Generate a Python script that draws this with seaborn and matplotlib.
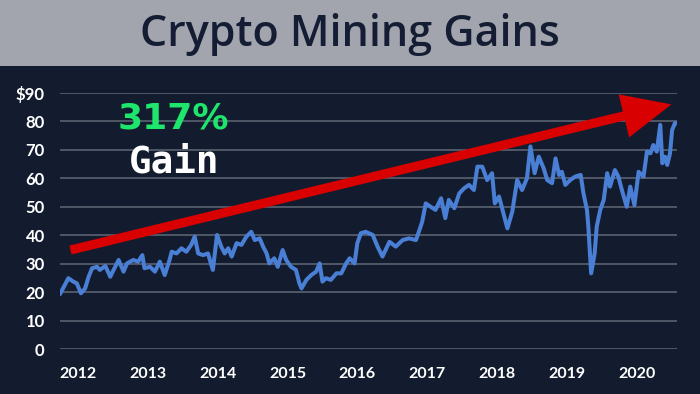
import numpy as np
import pandas as pd
import matplotlib
matplotlib.use("Agg")
import matplotlib.pyplot as plt
import seaborn as sns
from matplotlib.patches import Rectangle

# price readings (decimal year, $)
years = [2011.74, 2011.86, 2011.93, 2011.98, 2012.04, 2012.10, 2012.15, 2012.20, 2012.27, 2012.31,
         2012.39, 2012.46, 2012.52, 2012.58, 2012.65, 2012.70, 2012.79, 2012.86, 2012.92, 2012.95,
         2013.03, 2013.10, 2013.17, 2013.24, 2013.31, 2013.34, 2013.41, 2013.48, 2013.55, 2013.62,
         2013.67, 2013.72, 2013.79, 2013.86, 2013.93, 2013.99, 2014.05, 2014.10, 2014.15, 2014.20,
         2014.27, 2014.34, 2014.41, 2014.48, 2014.53, 2014.60, 2014.65, 2014.70, 2014.74, 2014.81,
         2014.86, 2014.93, 2014.98, 2015.05, 2015.12, 2015.17, 2015.20, 2015.27, 2015.34, 2015.41,
         2015.46, 2015.50, 2015.55, 2015.62, 2015.70, 2015.77, 2015.84, 2015.89, 2015.96, 2016.00,
         2016.05, 2016.12, 2016.22, 2016.29, 2016.36, 2016.46, 2016.55, 2016.65, 2016.74, 2016.84,
         2016.89, 2016.93, 2016.98, 2017.05, 2017.12, 2017.20, 2017.26, 2017.31, 2017.39, 2017.46,
         2017.53, 2017.60, 2017.67, 2017.72, 2017.79, 2017.86, 2017.93, 2017.97, 2018.03, 2018.08,
         2018.15, 2018.22, 2018.29, 2018.36, 2018.43, 2018.48, 2018.54, 2018.60, 2018.67, 2018.72,
         2018.79, 2018.84, 2018.89, 2018.93, 2018.98, 2019.05, 2019.12, 2019.20, 2019.24, 2019.29,
         2019.31, 2019.35, 2019.40, 2019.43, 2019.48, 2019.53, 2019.58, 2019.62, 2019.69, 2019.74,
         2019.79, 2019.86, 2019.91, 2019.97, 2020.03, 2020.10, 2020.15, 2020.20, 2020.24, 2020.29,
         2020.34, 2020.37, 2020.41, 2020.44, 2020.48, 2020.51, 2020.55, 2020.58]
prices = [19.3, 24.9, 23.7, 23.1, 19.6, 21.3, 25.4, 28.4, 28.9, 27.8,
          29.2, 25.4, 28.4, 31.3, 27.2, 30.1, 31.3, 30.7, 33.0, 28.4,
          28.9, 27.2, 30.7, 26.0, 31.3, 34.2, 33.6, 35.4, 34.2, 36.6,
          39.5, 33.6, 33.0, 33.6, 27.8, 40.1, 36.0, 33.6, 35.4, 32.5,
          37.2, 36.6, 39.5, 41.2, 38.3, 38.9, 36.0, 33.6, 30.1, 31.9,
          28.9, 34.8, 31.3, 28.9, 27.8, 23.1, 21.3, 24.3, 26.0, 27.2,
          30.1, 23.7, 24.9, 24.3, 26.6, 26.6, 30.1, 31.9, 30.1, 37.2,
          40.7, 41.2, 40.1, 36.0, 32.5, 37.7, 36.0, 38.3, 38.9, 38.3,
          41.8, 44.8, 51.2, 50.0, 48.9, 53.0, 46.0, 52.4, 49.5, 54.7,
          56.5, 57.7, 55.9, 64.1, 64.1, 59.4, 61.8, 51.2, 53.6, 48.9,
          42.4, 48.3, 59.4, 55.9, 60.0, 71.2, 61.8, 67.6, 63.5, 59.4,
          58.3, 67.0, 61.2, 62.3, 57.7, 59.4, 60.6, 61.2, 54.7, 48.9,
          43.0, 26.6, 33.6, 43.0, 48.9, 52.4, 61.8, 57.1, 62.9, 60.6,
          55.9, 50.0, 57.1, 50.6, 62.3, 60.6, 69.4, 68.8, 71.7, 69.4,
          78.8, 65.3, 67.6, 64.7, 68.8, 77.0, 79.4, 79.4]

tick_years = [2012, 2013, 2014, 2015, 2016, 2017, 2018, 2019, 2020]
y_ticks = [0, 10, 20, 30, 40, 50, 60, 70, 80, 90]
y_labels = ["0", "10", "20", "30", "40", "50", "60", "70", "80", "$90"]

# trend arrow endpoints (year, $)
arrow_start = (2011.89, 34.8)
arrow_end = (2020.50, 86.0)

BG = "#131c2e"
BANNER = "#a2a5ad"

sns.set_theme(style="dark")
plt.rcParams["font.family"] = ["Lato", "DejaVu Sans"]

fig = plt.figure(figsize=(7, 3.94), dpi=100, facecolor=BG)
fig.patches.append(Rectangle((0, 1 - 66 / 394), 1, 66 / 394, transform=fig.transFigure,
                             facecolor=BANNER, edgecolor="none", zorder=0))
fig.text(0.5, 1 - 34 / 394, "Crypto Mining Gains", ha="center", va="center",
         fontsize=31, fontweight="semibold", color="#141d33", family="Open Sans")

ax = fig.add_axes([60 / 700, 45 / 394, 617 / 700, 256 / 394])
ax.set_facecolor(BG)

df = pd.DataFrame({"year": years, "price": prices})
sns.lineplot(data=df, x="year", y="price", ax=ax, color="#4a7fd6", linewidth=2.9, zorder=3)

ax.set_xlim(2011.74, 2020.58)
ax.set_ylim(0, 90)
ax.set_yticks(y_ticks)
ax.set_yticklabels(y_labels)
ax.set_xticks(tick_years)
ax.set_xticklabels([str(y) for y in tick_years])
ax.tick_params(axis="y", colors="white", labelsize=12, length=0, pad=11)
ax.tick_params(axis="x", colors="white", labelsize=11.5, length=0, pad=13)
for lab in ax.get_xticklabels() + ax.get_yticklabels():
    lab.set_fontweight("bold")
ax.grid(axis="y", color="#5a6170", linewidth=1.2)
ax.grid(axis="x", visible=False)
ax.set_xlabel("")
ax.set_ylabel("")
for s in ax.spines.values():
    s.set_visible(False)

ax.annotate("", xy=arrow_end, xytext=arrow_start,
            arrowprops=dict(arrowstyle="simple,head_length=1.6,head_width=1.45,tail_width=0.3",
                            mutation_scale=22, color="#d80000", lw=0, shrinkA=0, shrinkB=0),
            annotation_clip=False, zorder=4)

ax.text(2013.37, 80.9, "317%", ha="center", va="center", fontsize=26,
        fontweight="bold", color="#1ee66c", family="DejaVu Sans")
ax.text(2013.37, 65.4, "Gain", ha="center", va="center", fontsize=27,
        fontweight="bold", color="white", family="DejaVu Sans Mono")

fig.savefig("out.png", dpi=100, facecolor=BG)
